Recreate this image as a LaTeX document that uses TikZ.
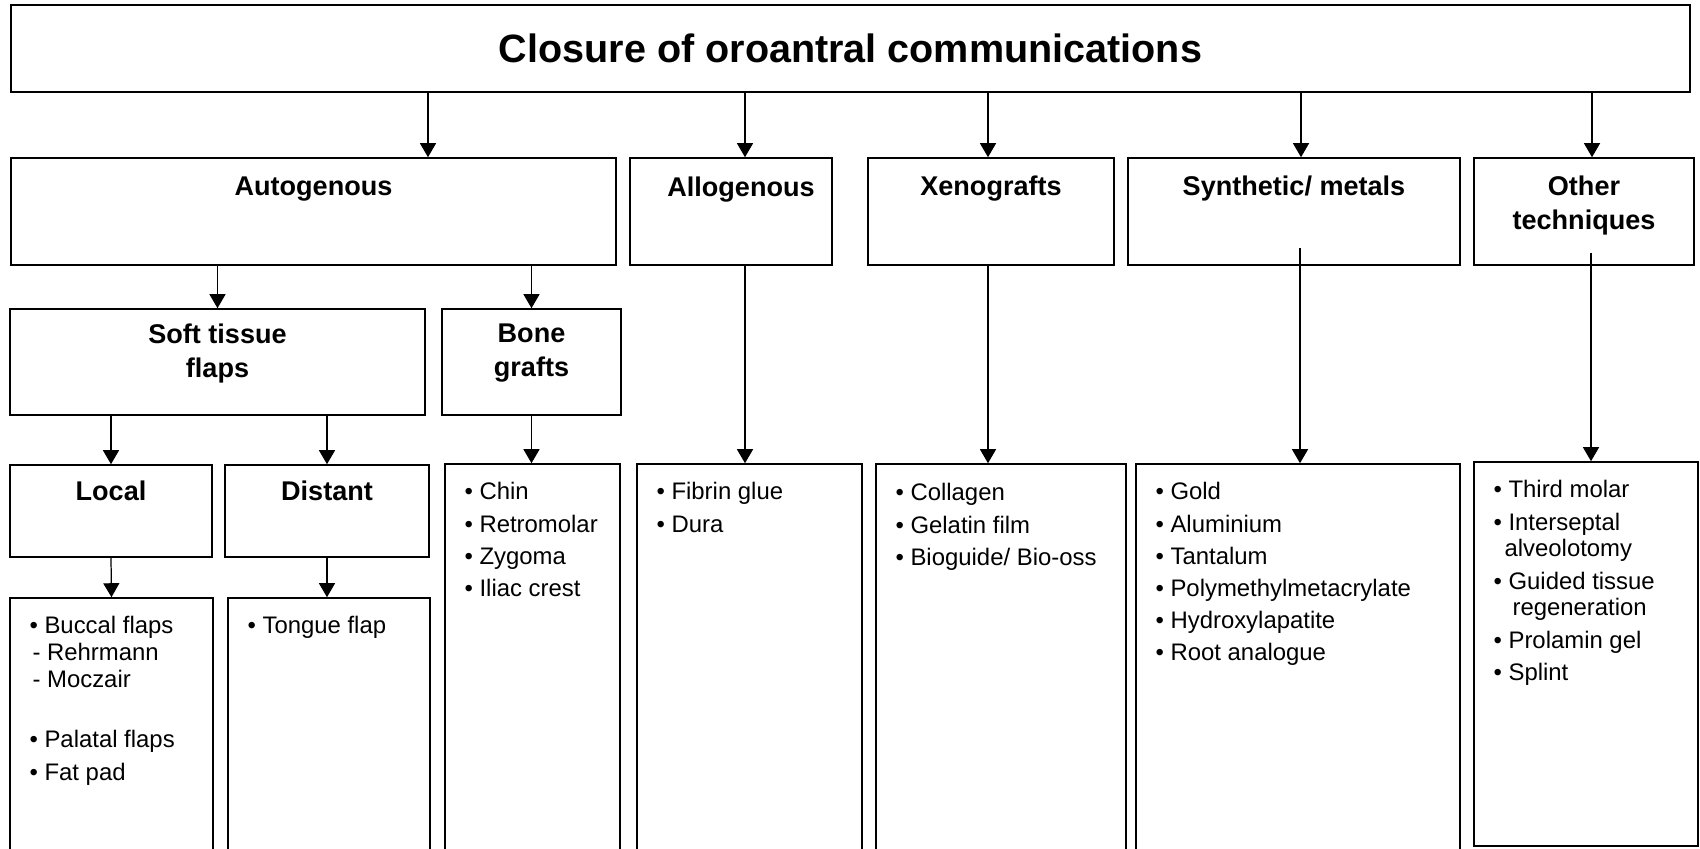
\documentclass[tikz,border=0pt]{standalone}
\usepackage{fontspec}
\setmainfont{Liberation Sans}
\usetikzlibrary{arrows.meta,positioning}
\tikzset{
  box/.style={draw,line width=0.9pt,inner sep=0pt},
  head/.style={font=\fontsize{15.4pt}{19pt}\selectfont\bfseries,align=center,inner sep=0pt},
  list/.style={font=\fontsize{13.6pt}{18.3pt}\selectfont,align=left,inner sep=0pt},
  arr/.style={line width=0.7pt,-{Triangle[width=0.32cm,length=0.28cm]}}
}

\begin{document}
\begin{tikzpicture}
  \useasboundingbox (0,0) rectangle (34,-16.96);
  \clip (0,0) rectangle (34,-16.96);
  % Title
  \node[box,minimum width=33.58cm,minimum height=1.74cm,font=\fontsize{22.5pt}{27pt}\selectfont\bfseries] (top) at (17.01,-0.97) {Closure of oroantral communications};
  % Main groups
  \node[box,minimum width=12.1cm,minimum height=2.14cm] (auto) at (6.27,-4.23) {};
  \node[box,minimum width=4.04cm,minimum height=2.14cm] (allo) at (14.62,-4.23) {};
  \node[box,minimum width=4.92cm,minimum height=2.14cm] (xeno) at (19.82,-4.23) {};
  \node[box,minimum width=6.64cm,minimum height=2.14cm] (synth) at (25.88,-4.23) {};
  \node[box,minimum width=4.4cm,minimum height=2.14cm] (other) at (31.68,-4.23) {};
  \node[head,below=0.39cm of auto.north] (autot) {Autogenous};
  \node[head,below=0.39cm of allo.north,xshift=0.2cm] (allot) {Allogenous};
  \node[head,below=0.37cm of xeno.north] (xenot) {Xenografts};
  \node[head,below=0.37cm of synth.north] (syntht) {Synthetic/ metals};
  \node[head,below=0.37cm of other.north] (othert) {Other\\techniques};
  \foreach \n/\s in {auto/2.29,allo/0.28,xeno/-0.06,synth/0.14,other/0.16}
    \draw[arr] ([xshift=\s cm]\n.north |- top.south) -- ([xshift=\s cm]\n.north);
  % Autogenous branch
  \node[box,minimum width=8.3cm,minimum height=2.12cm] (soft) at (4.35,-7.24) {};
  \node[box,minimum width=3.58cm,minimum height=2.12cm] (bone) at (10.63,-7.24) {};
  \node[head,below=0.31cm of soft.north] (softt) {Soft tissue\\flaps};
  \node[head,below=0.31cm of bone.north] (bonet) {Bone\\grafts};
  \draw[arr] (auto.south -| soft.north) -- (soft.north);
  \draw[arr] (auto.south -| bone.north) -- (bone.north);
  \node[box,minimum width=4.04cm,minimum height=1.84cm] (local) at (2.22,-10.22) {};
  \node[box,minimum width=4.08cm,minimum height=1.84cm] (dist) at (6.54,-10.22) {};
  \node[head,below=0.33cm of local.north] (localt) {Local};
  \node[head,below=0.33cm of dist.north] (distt) {Distant};
  \draw[arr] (soft.south -| local.north) -- (local.north);
  \draw[arr] (soft.south -| dist.north) -- (dist.north);
  % Lists
  \node[box,minimum width=4.06cm,minimum height=5.64cm] (locallist) at (2.23,-14.78) {};
  \node[box,minimum width=4.04cm,minimum height=5.64cm] (distlist) at (6.58,-14.78) {};
  \node[box,minimum width=3.5cm,minimum height=8.32cm] (bonelist) at (10.65,-13.44) {};
  \node[box,minimum width=4.5cm,minimum height=8.32cm] (allolist) at (14.99,-13.44) {};
  \node[box,minimum width=5.0cm,minimum height=8.32cm] (xenolist) at (20.02,-13.44) {};
  \node[box,minimum width=6.48cm,minimum height=8.32cm] (synthlist) at (25.96,-13.44) {};
  \node[box,minimum width=4.48cm,minimum height=7.68cm] (otherlist) at (31.72,-13.08) {};
  \draw[arr] (local.south) -- (locallist.north);
  \draw[arr] (dist.south) -- (dist.south |- distlist.north);
  \draw[arr] (bone.south) -- (bone.south |- bonelist.north);
  \draw[arr] ([xshift=0.28cm]allo.south) -- ([xshift=0.28cm]allo.south |- allolist.north);
  \draw[arr] ([xshift=-0.06cm]xeno.south) -- ([xshift=-0.06cm]xeno.south |- xenolist.north);
  \draw[arr] ([xshift=0.12cm,yshift=0.36cm]synth.south) -- ([xshift=0.12cm]synth.south |- synthlist.north);
  \draw[arr] ([xshift=0.14cm,yshift=0.26cm]other.south) -- ([xshift=0.14cm]other.south |- otherlist.north);
  \node[list,below right=0.38cm and 0.4cm of locallist.north west] (localitems)
    {• Buccal flaps\\[-3pt]\hspace*{0.06cm}- Rehrmann\\[-3pt]\hspace*{0.06cm}- Moczair\\[16pt]• Palatal flaps\\• Fat pad};
  \node[list,below right=0.38cm and 0.4cm of distlist.north west] (distitems) {• Tongue flap};
  \node[list,below right=0.38cm and 0.4cm of bonelist.north west] (boneitems)
    {• Chin\\• Retromolar\\• Zygoma\\• Iliac crest};
  \node[list,below right=0.38cm and 0.4cm of allolist.north west] (alloitems)
    {• Fibrin glue\\• Dura};
  \node[list,below right=0.4cm and 0.4cm of xenolist.north west] (xenoitems)
    {• Collagen\\• Gelatin film\\• Bioguide/ Bio-oss};
  \node[list,below right=0.38cm and 0.4cm of synthlist.north west] (synthitems)
    {• Gold\\• Aluminium\\• Tantalum\\• Polymethylmetacrylate\\• Hydroxylapatite\\• Root analogue};
  \node[list,below right=0.38cm and 0.4cm of otherlist.north west] (otheritems)
    {• Third molar\\• Interseptal\\[-3pt]\hspace*{0.22cm}alveolotomy\\• Guided tissue\\[-3pt]\hspace*{0.38cm}regeneration\\• Prolamin gel\\• Splint};
\end{tikzpicture}
\end{document}
